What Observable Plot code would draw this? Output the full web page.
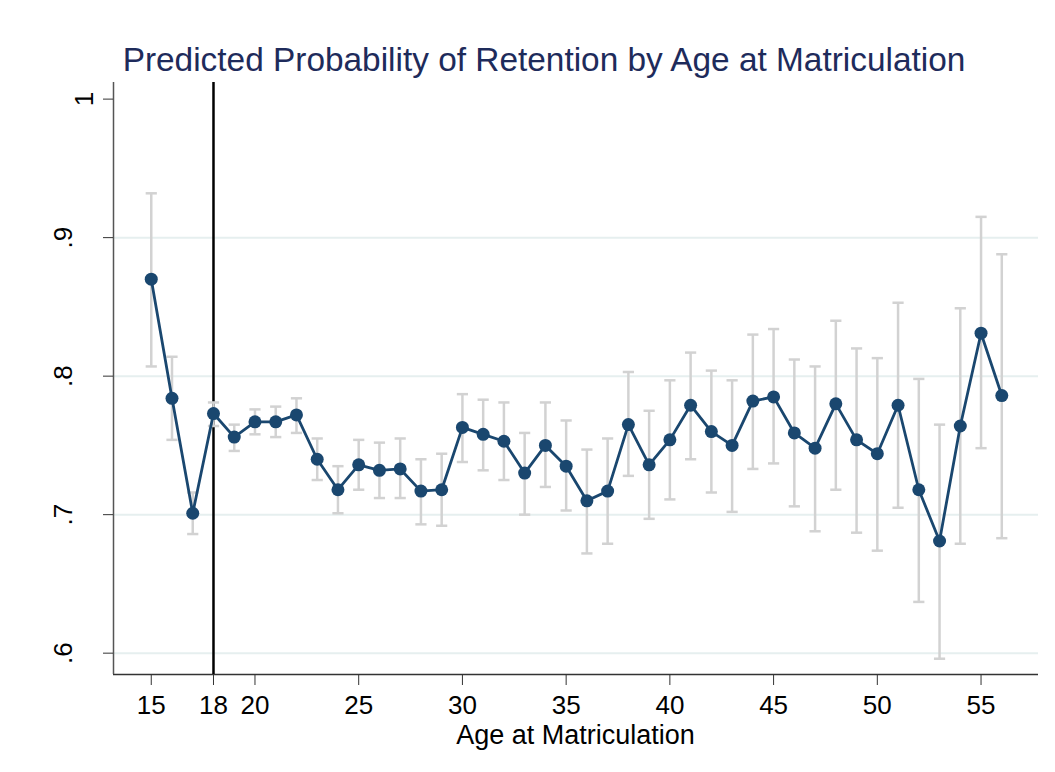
<!DOCTYPE html>
<html>
<head>
<meta charset="utf-8">
<script src="https://cdn.jsdelivr.net/npm/d3@7"></script>
<script src="https://cdn.jsdelivr.net/npm/@observablehq/plot@0.6"></script>
<style>
  html, body { margin: 0; padding: 0; background: #fff; }
  #wrap { position: relative; width: 1055px; height: 772px; }
  #topline { position: absolute; left: 4px; right: 0; top: 11px; border-top: 1px solid #ececec; }
  svg { font-family: "Liberation Sans", Arial, Helvetica, sans-serif; }
</style>
</head>
<body>
<div id="wrap"><div id="topline"></div></div>
<script>
// ---- data ----
const ages = [15,16,17,18,19,20,21,22,23,24,25,26,27,28,29,30,31,32,33,34,35,36,37,38,39,40,41,42,43,44,45,46,47,48,49,50,51,52,53,54,55,56];
const prob = [0.870,0.784,0.701,0.773,0.756,0.767,0.767,0.772,0.740,0.718,0.736,0.732,0.733,0.717,0.718,0.763,0.758,0.753,0.730,0.750,0.735,0.710,0.717,0.765,0.736,0.754,0.779,0.760,0.750,0.782,0.785,0.759,0.748,0.780,0.754,0.744,0.779,0.718,0.681,0.764,0.831,0.786];
const lower = [0.807,0.754,0.686,0.764,0.746,0.758,0.756,0.759,0.725,0.701,0.718,0.712,0.712,0.693,0.692,0.738,0.732,0.725,0.700,0.720,0.703,0.672,0.679,0.728,0.697,0.711,0.740,0.716,0.702,0.733,0.737,0.706,0.688,0.718,0.687,0.674,0.705,0.637,0.596,0.679,0.748,0.683];
const upper = [0.932,0.814,0.716,0.781,0.765,0.776,0.778,0.784,0.755,0.735,0.754,0.752,0.755,0.740,0.744,0.787,0.783,0.781,0.759,0.781,0.768,0.747,0.755,0.803,0.775,0.797,0.817,0.804,0.797,0.830,0.834,0.812,0.807,0.840,0.820,0.813,0.853,0.798,0.765,0.849,0.915,0.888];
const xTicks = [15,18,20,25,30,35,40,45,50,55];
const yTicks = [0.6,0.7,0.8,0.9,1];
const yTickLabels = [".6",".7",".8",".9","1"];
const gridTicks = [0.6,0.7,0.8,0.9];
const refAge = [18];
const xDomain = [13.18, 57.77];
const yDomain = [0.5846, 1.012];
const title = "Predicted Probability of Retention by Age at Matriculation";
const xLabel = "Age at Matriculation";

// ---- build ----
const rows = ages.map((a, i) => ({age: a, p: prob[i], lo: lower[i], hi: upper[i]}));
const yLab = yTicks.map((v, i) => ({v, t: yTickLabels[i]}));
const navy = "#1a476f";
const barGray = "#d2d2d2";
const capHalf = 0.27;

const W = 1055, H = 772;
const plot = Plot.plot({
  width: W, height: H,
  marginLeft: 113, marginRight: 17, marginTop: 82, marginBottom: 98,
  style: {fontFamily: "'Liberation Sans', Arial, Helvetica, sans-serif", background: "white", color: "black", overflow: "visible"},
  x: {domain: xDomain},
  y: {domain: yDomain},
  marks: [
    Plot.gridY(gridTicks, {stroke: "#e6efef", strokeOpacity: 1, strokeWidth: 2}),
    Plot.ruleY([yDomain[0]], {stroke: "#333", strokeWidth: 1.5}),
    Plot.ruleX([xDomain[0]], {stroke: "#555", strokeWidth: 1.5}),
    Plot.axisX({ticks: xTicks, tickSize: 11, tickPadding: 10, fontSize: 26, tickFormat: d => String(d), label: null, stroke: "#333"}),
    Plot.axisY({ticks: yTicks, tickSize: 10, tickFormat: () => "", label: null, stroke: "#333"}),
    Plot.text(yLab.filter(d => d.t === "1"), {y: "v", text: "t", frameAnchor: "left", dx: -21, rotate: -90, lineAnchor: "bottom", textAnchor: "middle", fontSize: 26, fill: "black"}),
    Plot.text(yLab.filter(d => d.t !== "1"), {y: "v", text: "t", frameAnchor: "left", dx: -42, rotate: -90, lineAnchor: "bottom", textAnchor: "middle", fontSize: 26, fill: "black"}),
    Plot.ruleX(refAge, {stroke: "black", strokeWidth: 2.5}),
    Plot.ruleX(rows, {x: "age", y1: "lo", y2: "hi", stroke: barGray, strokeWidth: 2.5}),
    Plot.link(rows, {x1: d => d.age - capHalf, x2: d => d.age + capHalf, y1: "hi", y2: "hi", stroke: barGray, strokeWidth: 2.5}),
    Plot.link(rows, {x1: d => d.age - capHalf, x2: d => d.age + capHalf, y1: "lo", y2: "lo", stroke: barGray, strokeWidth: 2.5}),
    Plot.line(rows, {x: "age", y: "p", stroke: navy, strokeWidth: 2.8}),
    Plot.dot(rows, {x: "age", y: "p", r: 6.5, fill: navy, stroke: "none"})
  ]
});

const svg = d3.select(plot);
svg.append("text")
  .attr("x", 544).attr("y", 71)
  .attr("text-anchor", "middle")
  .attr("font-size", 33.4)
  .attr("fill", "#1e2b5b")
  .text(title);
svg.append("text")
  .attr("x", (113 + (W - 17)) / 2).attr("y", 744)
  .attr("text-anchor", "middle")
  .attr("font-size", 27)
  .attr("fill", "black")
  .text(xLabel);

document.getElementById("wrap").appendChild(plot);
plot.style.position = "absolute";
plot.style.left = "0px";
plot.style.top = "0px";
</script>
</body>
</html>
